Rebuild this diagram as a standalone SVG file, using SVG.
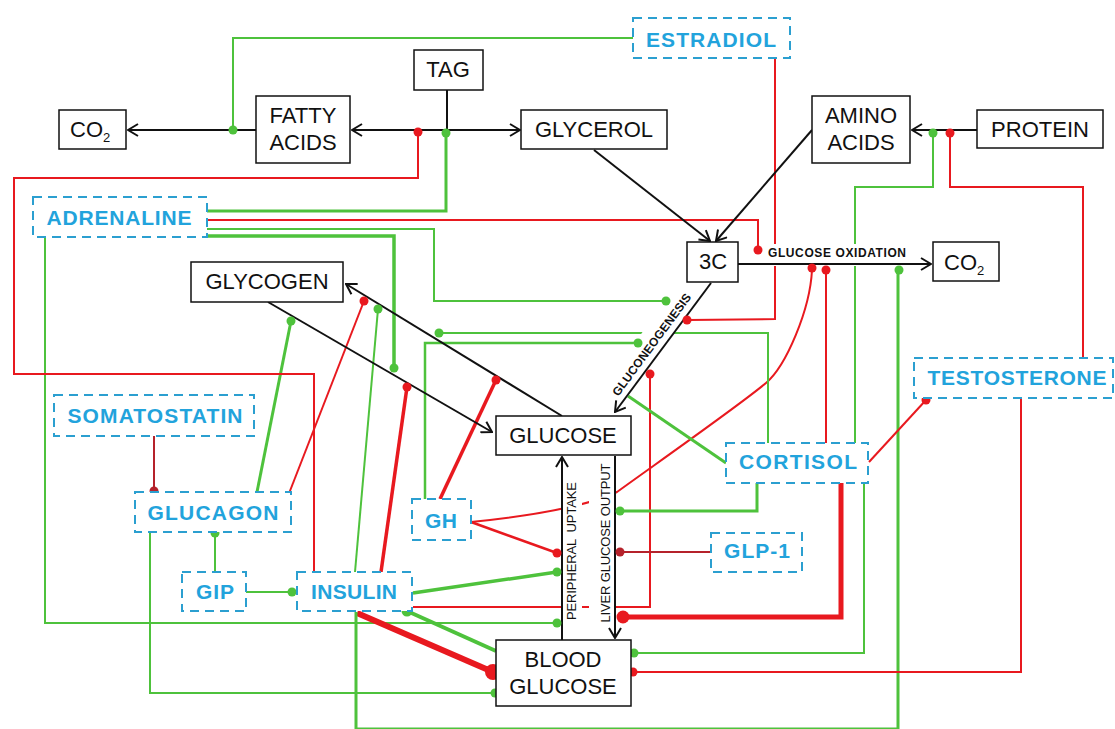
<svg xmlns="http://www.w3.org/2000/svg" width="1115" height="729" viewBox="0 0 1115 729">
<defs>
<style>
.box{fill:#fff;stroke:#111;stroke-width:1.5}
.hb{fill:#fff;stroke:#2b9fd0;stroke-width:2;stroke-dasharray:9 6}
.t{font-family:"Liberation Sans",Arial,sans-serif;font-size:22px;fill:#111}
.sub{font-size:13px}
.ht{font-family:"Liberation Sans",Arial,sans-serif;font-size:21px;font-weight:bold;fill:#22a3dc;text-anchor:middle}
.g{fill:none;stroke:#4ec23c;stroke-width:2}
.r{fill:none;stroke:#e8191f;stroke-width:2}
.dr{fill:none;stroke:#b5222b;stroke-width:2}
.gd{fill:#4ec23c}
.rd{fill:#e8191f}
.drd{fill:#b5222b}
.k{fill:none;stroke:#111;stroke-width:2}
.lab{font-family:"Liberation Sans",Arial,sans-serif;font-size:12px;font-weight:bold;fill:#111}
.vlab{font-family:"Liberation Sans",Arial,sans-serif;font-size:13px;fill:#111;text-anchor:middle}
.bg{fill:#fff}
</style>
<marker id="ah" viewBox="0 0 12 14" refX="11" refY="7" markerWidth="12" markerHeight="14" markerUnits="userSpaceOnUse" orient="auto">
<path d="M1,1 L11,7 L1,13" fill="none" stroke="#111" stroke-width="2"/>
</marker>
</defs>
<rect width="1115" height="729" fill="#fff"/>
<g id="connectors">
<g id="colored-lines">
<path class="g" d="M633,38 L233,38 L233,130"/>
<path class="r" d="M775,58 L775,319 L688,320"/>
<path class="g" style="stroke-width:3" d="M207,211 L446,211 L446,134"/>
<path class="r" d="M207,220 L758,220 L758,250"/>
<path class="g" d="M207,229 L434,229 L434,301 L666,301"/>
<path class="g" style="stroke-width:3.5" d="M207,236 L394,236 L394,368"/>
<path class="g" d="M45,237 L45,623 L557,623"/>
<path class="dr" d="M154,436 L154,491"/>
<path class="g" style="stroke-width:3" d="M257,492 L291,321"/>
<path class="r" d="M288,496 L364,301"/>
<path class="g" d="M150,532 L150,693 L495,693"/>
<path class="g" d="M215,572 L215,533"/>
<path class="g" d="M246,592 L292,592"/>
<path class="r" d="M314,572 L314,374 L14,374 L14,178 L418,178 L418,133"/>
<path class="g" d="M355,572 L378,309"/>
<path class="r" style="stroke-width:3.5" d="M381,572 L407,387"/>
<path class="g" style="stroke-width:3.5" d="M413,593 L557,572"/>
<path class="r" d="M413,607 L650,607 L650,374"/>
<path class="g" style="stroke-width:4" d="M407,611 L496,651"/>
<path class="r" style="stroke-width:6" d="M357,613 L493,672"/>
<path class="g" style="stroke-width:3" d="M356,612 L356,729 M898,729 L898,270"/>
<path class="g" style="stroke-width:2" d="M356,728.5 L898,728.5"/>
<path class="g" style="stroke-width:2.5" d="M425,499 L425,343 L638,343"/>
<path class="r" style="stroke-width:3.5" d="M440,499 L496,380"/>
<path class="r" style="stroke-width:2.5" d="M471,522 L557,553"/>
<path class="r" d="M471,522 C530,516 585,507 617,492 C650,468 740,405 766,383 C786,366 810,310 812,270"/>
<path class="g" style="stroke-width:3" d="M726,463 L628,396"/>
<path class="g" d="M768,443 L768,333 L439,333"/>
<path class="r" d="M826,443 L826,270"/>
<path class="g" d="M855,443 L855,187 L933,187 L933,134"/>
<path class="g" style="stroke-width:3" d="M757,483 L757,511 L620,511"/>
<path class="r" style="stroke-width:5" d="M841,483 L841,617 L623,617"/>
<path class="g" d="M864,483 L864,653 L634,653"/>
<path class="r" d="M1083,358 L1083,187 L950,187 L950,134"/>
<path class="r" d="M869,462 L926,400"/>
<path class="r" d="M1021,398 L1021,672 L633,672"/>
<path class="dr" d="M711,552 L620,552"/>
</g>
<g id="label-backgrounds">
<rect class="bg" x="563" y="476" width="19" height="148"/>
<rect class="bg" x="589" y="461" width="25" height="165"/>
<rect class="bg" x="766" y="244" width="142" height="22"/>
<g transform="translate(666,344) rotate(-53.56)"><rect class="bg" x="-72" y="-26" width="130" height="26"/></g>
</g>
<g id="pathways">
<path class="k" d="M256,130 L128,130" marker-end="url(#ah)"/>
<path class="k" d="M447,90 L447,130"/>
<path class="k" d="M447,130 L352,130" marker-end="url(#ah)"/>
<path class="k" d="M447,130 L520,130" marker-end="url(#ah)"/>
<path class="k" d="M594,150 L710,241" marker-end="url(#ah)"/>
<path class="k" d="M812,130 L716,241" marker-end="url(#ah)"/>
<path class="k" d="M977,130 L912,130" marker-end="url(#ah)"/>
<path class="k" d="M738,264 L931,264" marker-end="url(#ah)"/>
<path class="k" d="M711,283 L615,412" marker-end="url(#ah)"/>
<path class="k" d="M562,416 L346,284" marker-end="url(#ah)"/>
<path class="k" d="M268,302 L492,432" marker-end="url(#ah)"/>
<path class="k" d="M562,640 L562,457" marker-end="url(#ah)"/>
<path class="k" d="M615,456 L615,638" marker-end="url(#ah)"/>
</g>
<g id="connector-labels">
<text class="lab" x="768" y="257" textLength="138">GLUCOSE OXIDATION</text>
<text class="lab" transform="translate(666,344) rotate(-53.56)" x="-71" y="-7" textLength="124">GLUCONEOGENESIS</text>
<text class="vlab" transform="translate(576,551) rotate(-90)" textLength="138" xml:space="preserve">PERIPHERAL  UPTAKE</text>
<text class="vlab" transform="translate(610,543) rotate(-90)" textLength="159">LIVER GLUCOSE OUTPUT</text>
</g>
<g id="dots">
<circle class="gd" cx="233" cy="130" r="4.5"/>
<circle class="rd" cx="418" cy="132" r="4.5"/>
<circle class="gd" cx="446" cy="133" r="4.5"/>
<circle class="gd" cx="933" cy="133" r="4.5"/>
<circle class="rd" cx="950" cy="133" r="4.5"/>
<circle class="rd" cx="758" cy="250" r="4.5"/>
<circle class="rd" cx="812" cy="268" r="4.5"/>
<circle class="rd" cx="826" cy="270" r="4.5"/>
<circle class="gd" cx="899" cy="270" r="4.5"/>
<circle class="gd" cx="666" cy="301" r="4.5"/>
<circle class="rd" cx="687" cy="320" r="4.5"/>
<circle class="gd" cx="439" cy="333" r="4.5"/>
<circle class="gd" cx="638" cy="343" r="4.5"/>
<circle class="rd" cx="650" cy="374" r="4.5"/>
<circle class="rd" cx="364" cy="301" r="4.5"/>
<circle class="gd" cx="378" cy="309" r="4.5"/>
<circle class="gd" cx="291" cy="321" r="4.5"/>
<circle class="gd" cx="394" cy="368" r="4.5"/>
<circle class="rd" cx="407" cy="387" r="4.5"/>
<circle class="rd" cx="496" cy="380" r="4.5"/>
<circle class="drd" cx="154" cy="491" r="4.5"/>
<circle class="gd" cx="215" cy="533" r="4.5"/>
<circle class="gd" cx="292" cy="592" r="4.5"/>
<circle class="rd" cx="926" cy="400" r="4.5"/>
<circle class="rd" cx="557" cy="553" r="4.5"/>
<circle class="gd" cx="557" cy="572" r="4.5"/>
<circle class="gd" cx="557" cy="623" r="4.5"/>
<circle class="gd" cx="620" cy="511" r="4.5"/>
<circle class="drd" cx="620" cy="552" r="4.5"/>
<circle class="rd" cx="623" cy="617" r="6.5"/>
<circle class="gd" cx="407" cy="611" r="5.5"/>
<circle class="rd" cx="493" cy="672" r="8"/>
<circle class="gd" cx="495" cy="693" r="4.5"/>
<circle class="gd" cx="634" cy="653" r="4.5"/>
<circle class="rd" cx="633" cy="672" r="4.5"/>
</g>
</g>
<g id="n-co2-left"><rect class="box" x="59" y="110" width="67" height="39"/><text class="t" x="70" y="137">CO<tspan class="sub" dy="5">2</tspan></text></g>
<g id="n-fatty-acids"><rect class="box" x="256" y="96" width="94" height="67"/><text class="t" x="303" y="123" text-anchor="middle">FATTY</text><text class="t" x="303" y="150" text-anchor="middle">ACIDS</text></g>
<g id="n-tag"><rect class="box" x="414" y="50" width="69" height="40"/><text class="t" x="448" y="77" text-anchor="middle">TAG</text></g>
<g id="n-glycerol"><rect class="box" x="521" y="110" width="146" height="39"/><text class="t" x="594" y="137" text-anchor="middle">GLYCEROL</text></g>
<g id="n-amino-acids"><rect class="box" x="812" y="96" width="98" height="67"/><text class="t" x="861" y="123" text-anchor="middle">AMINO</text><text class="t" x="861" y="150" text-anchor="middle">ACIDS</text></g>
<g id="n-protein"><rect class="box" x="977" y="110" width="126" height="38"/><text class="t" x="1040" y="137" text-anchor="middle">PROTEIN</text></g>
<g id="n-3c"><rect class="box" x="687" y="242" width="51" height="40"/><text class="t" x="713" y="269" text-anchor="middle">3C</text></g>
<g id="n-co2-right"><rect class="box" x="933" y="242" width="66" height="39"/><text class="t" x="944" y="270">CO<tspan class="sub" dy="5">2</tspan></text></g>
<g id="n-glycogen"><rect class="box" x="191" y="262" width="152" height="40"/><text class="t" x="267" y="289" text-anchor="middle">GLYCOGEN</text></g>
<g id="n-glucose"><rect class="box" x="496" y="416" width="135" height="39"/><text class="t" x="563" y="443" text-anchor="middle">GLUCOSE</text></g>
<g id="n-blood-glucose"><rect class="box" x="496" y="640" width="135" height="66"/><text class="t" x="563" y="667" text-anchor="middle">BLOOD</text><text class="t" x="563" y="694" text-anchor="middle">GLUCOSE</text></g>
<g id="h-estradiol"><rect class="hb" x="633" y="18" width="157" height="40"/><text class="ht" x="711" y="47" textLength="130">ESTRADIOL</text></g>
<g id="h-adrenaline"><rect class="hb" x="33" y="197" width="174" height="40"/><text class="ht" x="119" y="225" textLength="145">ADRENALINE</text></g>
<g id="h-somatostatin"><rect class="hb" x="54" y="395" width="200" height="41"/><text class="ht" x="155" y="423" textLength="175">SOMATOSTATIN</text></g>
<g id="h-glucagon"><rect class="hb" x="135" y="492" width="156" height="40"/><text class="ht" x="213" y="520" textLength="131">GLUCAGON</text></g>
<g id="h-gip"><rect class="hb" x="182" y="572" width="64" height="39"/><text class="ht" x="215" y="599" textLength="38">GIP</text></g>
<g id="h-insulin"><rect class="hb" x="297" y="572" width="115" height="39"/><text class="ht" x="354" y="599" textLength="86">INSULIN</text></g>
<g id="h-gh"><rect class="hb" x="412" y="499" width="59" height="41"/><text class="ht" x="441" y="528" textLength="32">GH</text></g>
<g id="h-cortisol"><rect class="hb" x="726" y="443" width="142" height="40"/><text class="ht" x="798" y="469" textLength="118">CORTISOL</text></g>
<g id="h-glp1"><rect class="hb" x="711" y="533" width="91" height="39"/><text class="ht" x="757" y="558" textLength="66">GLP-1</text></g>
<g id="h-testosterone"><rect class="hb" x="914" y="358" width="199" height="40"/><text class="ht" x="1017" y="385" textLength="179">TESTOSTERONE</text></g>
</svg>
